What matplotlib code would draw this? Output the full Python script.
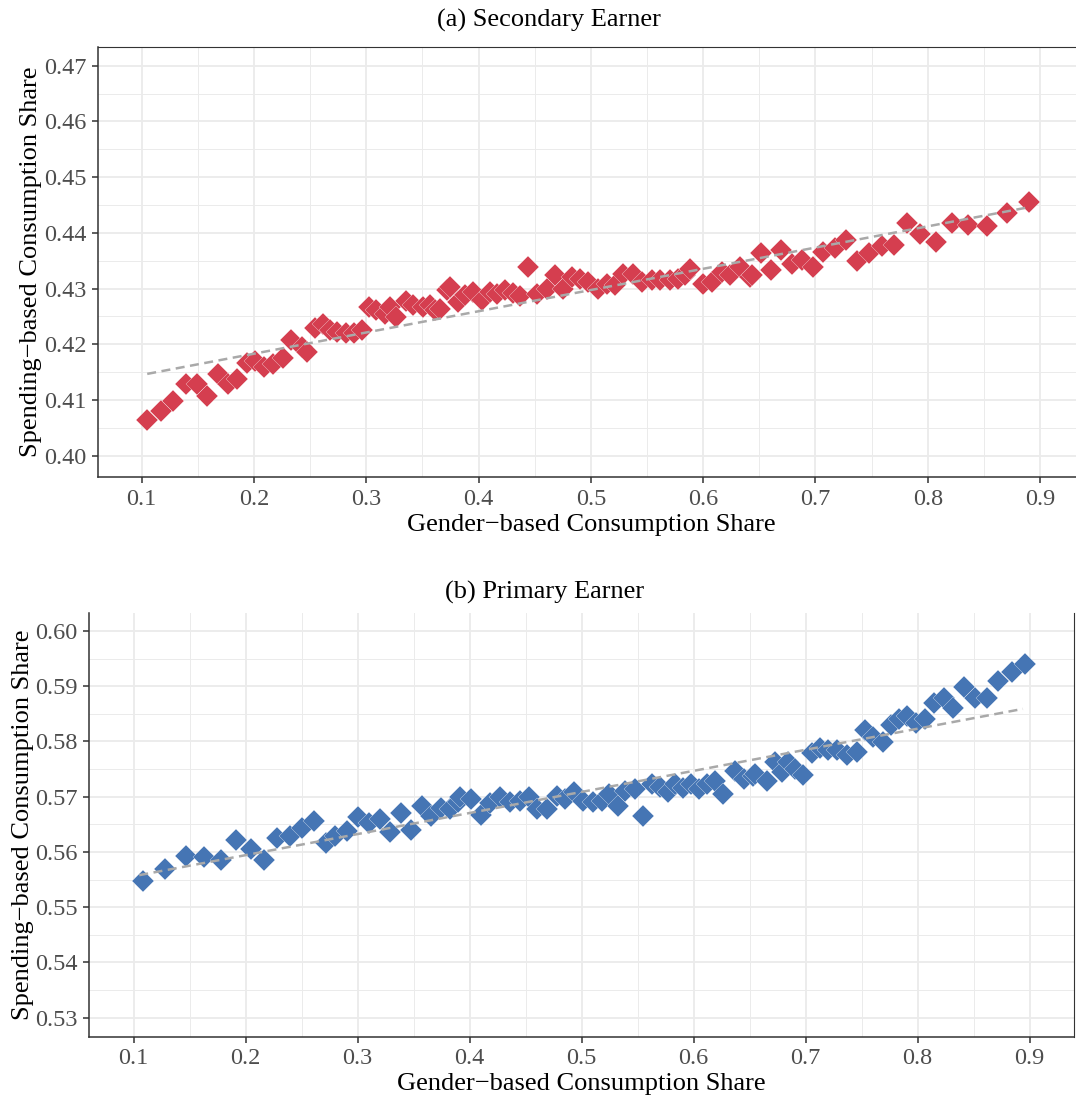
import matplotlib
matplotlib.use("Agg")
import matplotlib.pyplot as plt
from matplotlib.ticker import MultipleLocator, FormatStrFormatter

plt.rcParams['font.family'] = ['Liberation Serif', 'DejaVu Serif']

# (a) secondary earner: binned points
sec_x = [0.1045, 0.117, 0.128, 0.1395, 0.1496, 0.1585, 0.1683, 0.1767, 0.1852, 0.1936,
         0.201, 0.209, 0.2173, 0.2256, 0.2328, 0.2426, 0.2476, 0.2544, 0.2613, 0.2678,
         0.2743, 0.282, 0.2891, 0.296, 0.3028, 0.3087, 0.3167, 0.3212, 0.3265, 0.3355,
         0.342, 0.3503, 0.3568, 0.3613, 0.3657, 0.3717, 0.3746, 0.382, 0.388, 0.3954,
         0.4028, 0.4102, 0.4162, 0.4236, 0.4304, 0.437, 0.4443, 0.4518, 0.4607, 0.4681,
         0.4755, 0.483, 0.4904, 0.4978, 0.5067, 0.5142, 0.5216, 0.5289, 0.5378, 0.5453,
         0.5542, 0.5616, 0.5705, 0.5779, 0.5839, 0.5883, 0.6002, 0.6077, 0.6166, 0.624,
         0.6329, 0.6418, 0.6433, 0.6513, 0.6602, 0.6691, 0.6789, 0.6878, 0.6976, 0.7071,
         0.7175, 0.7273, 0.7373, 0.748, 0.759, 0.7702, 0.7813, 0.7931, 0.8074, 0.8214,
         0.8362, 0.8525, 0.8704, 0.8905]
sec_y = [0.4065, 0.4081, 0.4099, 0.4129, 0.4128, 0.4108, 0.4147, 0.4129, 0.4137, 0.4166,
         0.4171, 0.4159, 0.4165, 0.4176, 0.4207, 0.4196, 0.4186, 0.4230, 0.4237, 0.4226,
         0.4222, 0.4220, 0.4220, 0.4226, 0.4267, 0.4261, 0.4255, 0.4267, 0.4249, 0.4278,
         0.4270, 0.4267, 0.4270, 0.4261, 0.4263, 0.4297, 0.4303, 0.4276, 0.4288, 0.4294,
         0.4280, 0.4294, 0.4290, 0.4297, 0.4292, 0.4286, 0.4338, 0.4291, 0.4300, 0.4324,
         0.4300, 0.4320, 0.4318, 0.4312, 0.4300, 0.4309, 0.4306, 0.4327, 0.4327, 0.4312,
         0.4315, 0.4316, 0.4315, 0.4318, 0.4324, 0.4336, 0.4309, 0.4312, 0.4330, 0.4324,
         0.4339, 0.4321, 0.4324, 0.4363, 0.4334, 0.4370, 0.4345, 0.4352, 0.4339, 0.4366,
         0.4372, 0.4387, 0.4350, 0.4363, 0.4376, 0.4378, 0.4418, 0.4398, 0.4384, 0.4418,
         0.4415, 0.4412, 0.4436, 0.4456]
sec_fit_x = [0.105, 0.890]
sec_fit_y = [0.4147, 0.4446]

# (b) primary earner
pri_x = [0.108, 0.128, 0.1467, 0.1628, 0.1777, 0.1913, 0.2045, 0.2163, 0.2277, 0.2396,
         0.25, 0.261, 0.2717, 0.2797, 0.2907, 0.3005, 0.3104, 0.32, 0.3288, 0.3384,
         0.3473, 0.3571, 0.3652, 0.3741, 0.3824, 0.3898, 0.3913, 0.4009, 0.4098, 0.4181,
         0.427, 0.436, 0.4449, 0.4532, 0.4604, 0.4693, 0.4777, 0.4851, 0.4931, 0.5014,
         0.5098, 0.5179, 0.5246, 0.5327, 0.5387, 0.5476, 0.5545, 0.5625, 0.5699, 0.5773,
         0.5833, 0.5907, 0.5973, 0.605, 0.6116, 0.619, 0.6264, 0.6369, 0.6449, 0.6532,
         0.6547, 0.6652, 0.6726, 0.6786, 0.6845, 0.6905, 0.6979, 0.7054, 0.7128, 0.7202,
         0.7277, 0.7366, 0.7455, 0.753, 0.7604, 0.7688, 0.7759, 0.7836, 0.7907, 0.7985,
         0.8065, 0.8146, 0.8235, 0.8318, 0.8413, 0.8512, 0.8616, 0.872, 0.8839, 0.8958]
pri_y = [0.5547, 0.5569, 0.5592, 0.5590, 0.5585, 0.5622, 0.5606, 0.5585, 0.5626, 0.5628,
         0.5643, 0.5656, 0.5616, 0.5629, 0.5638, 0.5663, 0.5653, 0.5659, 0.5636, 0.5670,
         0.5640, 0.5683, 0.5665, 0.5679, 0.5677, 0.5690, 0.5699, 0.5696, 0.5667, 0.5689,
         0.5699, 0.5690, 0.5693, 0.5699, 0.5678, 0.5678, 0.5702, 0.5695, 0.5708, 0.5693,
         0.5691, 0.5693, 0.5705, 0.5684, 0.5711, 0.5714, 0.5665, 0.5723, 0.5717, 0.5708,
         0.5723, 0.5715, 0.5723, 0.5714, 0.5723, 0.5729, 0.5705, 0.5747, 0.5732, 0.5738,
         0.5741, 0.5729, 0.5763, 0.5744, 0.5763, 0.5750, 0.5739, 0.5779, 0.5788, 0.5784,
         0.5784, 0.5775, 0.5781, 0.5820, 0.5808, 0.5799, 0.5830, 0.5841, 0.5847, 0.5834,
         0.5841, 0.5870, 0.5879, 0.5861, 0.5899, 0.5879, 0.5878, 0.5909, 0.5925, 0.5941]
pri_fit_x = [0.105, 0.894]
pri_fit_y = [0.5558, 0.5859]

x_label = "Gender\u2212based Consumption Share"
y_label = "Spending\u2212based Consumption Share"

W, H = 1076, 1100
fig = plt.figure(figsize=(W / 100, H / 100), dpi=100)


def px_axes(l, t, r, b):
    return fig.add_axes([l / W, 1 - b / H, (r - l) / W, (b - t) / H])


def style(ax, xlim, ylim, top_spine, right_spine):
    ax.set_xlim(*xlim)
    ax.set_ylim(*ylim)
    ax.xaxis.set_major_locator(MultipleLocator(0.1))
    ax.xaxis.set_minor_locator(MultipleLocator(0.05))
    ax.yaxis.set_major_locator(MultipleLocator(0.01))
    ax.yaxis.set_minor_locator(MultipleLocator(0.005))
    ax.xaxis.set_major_formatter(FormatStrFormatter('%.1f'))
    ax.yaxis.set_major_formatter(FormatStrFormatter('%.2f'))
    ax.grid(which='major', color='#EBEBEB', linewidth=1.3)
    ax.grid(which='minor', color='#EBEBEB', linewidth=0.7)
    ax.set_axisbelow(True)
    for s in ['left', 'bottom']:
        ax.spines[s].set_color('#333333')
        ax.spines[s].set_linewidth(1.1)
    ax.spines['top'].set_visible(top_spine)
    ax.spines['right'].set_visible(right_spine)
    ax.spines['top'].set_color('#333333')
    ax.spines['right'].set_color('#333333')
    ax.tick_params(which='major', length=4.3, width=1.1, color='#333333',
                   labelsize=17.5, labelcolor='#4D4D4D', pad=4)
    ax.tick_params(which='minor', length=0)
    ax.set_xlabel(x_label, fontsize=19, labelpad=3)
    ax.set_ylabel(y_label, fontsize=19, labelpad=1)


# panel a
ax1 = px_axes(97.7, 46.7, 1085, 477)
ax1.plot(sec_x, sec_y, linestyle='none', marker='D', markersize=10.8,
         color='#D53E4F', markeredgecolor='white', markeredgewidth=0.2, zorder=2)
ax1.plot(sec_fit_x, sec_fit_y, color='#A9A9A9', linewidth=1.8,
         linestyle=(0, (3.6, 2.2)), zorder=3)
style(ax1, (0.0609, 0.940), (0.3962, 0.4734), True, False)
fig.text(549 / W, 1 - 20 / H, "(a) Secondary Earner", ha='center', va='center', fontsize=19)

# panel b
ax2 = px_axes(89.3, 613.3, 1074, 1036.7)
ax2.plot(pri_x, pri_y, linestyle='none', marker='D', markersize=10.8,
         color='#4575B4', markeredgecolor='white', markeredgewidth=0.2, zorder=2)
ax2.plot(pri_fit_x, pri_fit_y, color='#A9A9A9', linewidth=1.8,
         linestyle=(0, (3.6, 2.2)), zorder=3)
style(ax2, (0.0604, 0.9396), (0.52656, 0.6032), False, True)
fig.text(545 / W, 1 - 592 / H, "(b) Primary Earner", ha='center', va='center', fontsize=19)

fig.savefig("out.png", dpi=100)
